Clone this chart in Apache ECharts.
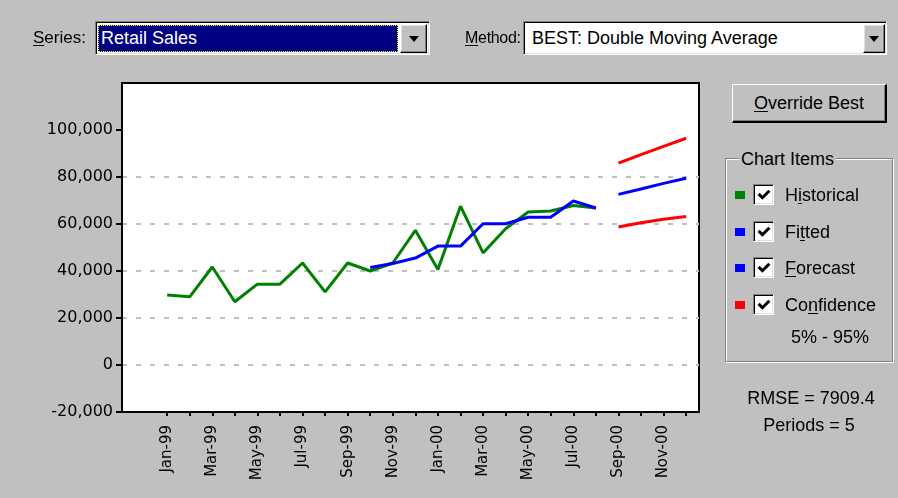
<!DOCTYPE html>
<html>
<head>
<meta charset="utf-8">
<script src="https://cdn.jsdelivr.net/npm/echarts@6/dist/echarts.min.js"></script>
<style>
  html, body { margin:0; padding:0; background:#c0c0c0; width:898px; height:498px; overflow:hidden; }
  body { position:relative; font-family:"Liberation Sans", Arial, sans-serif; font-size:18px; color:#000; }
  #chart { position:absolute; left:0; top:0; width:898px; height:498px; }
  .ui { position:absolute; z-index:2; box-sizing:border-box; white-space:nowrap; }
  .lbl { line-height:20px; }
  .sunken { background:#fff; border-top:1px solid #808080; border-left:1px solid #808080; border-right:1px solid #fff; border-bottom:1px solid #fff; box-shadow: inset 1px 1px 0 #000, inset -1px -1px 0 #dfdfdf; }
  .raised { background:#c0c0c0; border-top:1px solid #fff; border-left:1px solid #fff; border-right:1px solid #000; border-bottom:1px solid #000; box-shadow: inset -1px -1px 0 #808080, inset 1px 1px 0 #dfdfdf; }
  .tri { position:absolute; left:50%; top:50%; width:0; height:0; margin-left:-5px; margin-top:-3px; border-left:5px solid transparent; border-right:5px solid transparent; border-top:6px solid #000; }
  u { text-decoration:underline; text-underline-offset:2px; }
  .sq { position:absolute; width:10px; height:8px; z-index:2; }
  .cb { position:absolute; width:21px; height:21px; z-index:2; box-sizing:border-box; background:#fff; border-top:1px solid #808080; border-left:1px solid #808080; border-right:1px solid #fff; border-bottom:1px solid #fff; box-shadow: inset 1px 1px 0 #000, inset -1px -1px 0 #dfdfdf; }
  .cb svg { position:absolute; left:3px; top:3px; }
</style>
</head>
<body>
<div id="chart"></div>

<!-- Top controls -->
<div class="ui lbl" style="left:33px; top:28px; font-size:17px;"><u>S</u>eries:</div>
<div class="ui sunken" style="left:95px; top:21px; width:335px; height:34px;">
  <div style="position:absolute; left:2px; top:3px; width:300px; height:27px; background:#000080; outline:1px dotted #ffff00; outline-offset:-1px; color:#fff; line-height:27px; padding-left:3px; box-sizing:border-box;">Retail Sales</div>
  <div class="raised" style="position:absolute; left:304px; top:2px; width:27px; height:29px; box-sizing:border-box;"><div class="tri"></div></div>
</div>

<div class="ui lbl" style="left:465px; top:28px; font-size:16px; letter-spacing:-0.3px; z-index:3;"><u>M</u>ethod:</div>
<div class="ui sunken" style="left:523px; top:21px; width:364px; height:34px;">
  <div style="position:absolute; left:8px; top:3px; line-height:27px;">BEST: Double Moving Average</div>
  <div class="raised" style="position:absolute; left:339px; top:2px; width:22px; height:29px; box-sizing:border-box;"><div class="tri"></div></div>
</div>

<!-- Override button -->
<div class="ui" style="left:732px; top:84px; width:155px; height:39px; background:#c0c0c0; border-top:1px solid #fff; border-left:1px solid #fff; border-right:2px solid #000; border-bottom:2px solid #000; box-shadow: inset -1px -1px 0 #808080; text-align:center; line-height:36px;"><u>O</u>verride Best</div>

<!-- Chart Items group -->
<div class="ui" style="left:725px; top:158px; width:168px; height:204px; border:1px solid #808080; box-shadow: 1px 1px 0 #fff, inset 1px 1px 0 #fff;"></div>
<div class="ui lbl" style="left:739px; top:149px; background:#c0c0c0; padding:0 2px;">Chart Items</div>

<div class="sq" style="left:735px; top:191px; background:#008000;"></div>
<div class="cb" style="left:753px; top:184px;"><svg width="14" height="14" viewBox="0 0 13 13"><path d="M1.5 5.5 L5 9 L11.5 2.5" stroke="#000" stroke-width="2.8" fill="none"/></svg></div>
<div class="ui lbl" style="left:785px; top:185px;">H<u>i</u>storical</div>

<div class="sq" style="left:735px; top:228px; background:#0000ff;"></div>
<div class="cb" style="left:753px; top:221px;"><svg width="14" height="14" viewBox="0 0 13 13"><path d="M1.5 5.5 L5 9 L11.5 2.5" stroke="#000" stroke-width="2.8" fill="none"/></svg></div>
<div class="ui lbl" style="left:785px; top:222px;">Fi<u>t</u>ted</div>

<div class="sq" style="left:735px; top:264px; background:#0000ff;"></div>
<div class="cb" style="left:753px; top:257px;"><svg width="14" height="14" viewBox="0 0 13 13"><path d="M1.5 5.5 L5 9 L11.5 2.5" stroke="#000" stroke-width="2.8" fill="none"/></svg></div>
<div class="ui lbl" style="left:785px; top:258px;"><u>F</u>orecast</div>

<div class="sq" style="left:735px; top:301px; background:#ff0000;"></div>
<div class="cb" style="left:753px; top:294px;"><svg width="14" height="14" viewBox="0 0 13 13"><path d="M1.5 5.5 L5 9 L11.5 2.5" stroke="#000" stroke-width="2.8" fill="none"/></svg></div>
<div class="ui lbl" style="left:785px; top:295px;">Co<u>n</u>fidence</div>

<div class="ui lbl" style="left:791px; top:327px;">5% - 95%</div>

<div class="ui lbl" style="left:725px; top:388px; width:172px; text-align:center;">RMSE = 7909.4</div>
<div class="ui lbl" style="left:725px; top:415px; width:168px; text-align:center;">Periods = 5</div>

<script>
// ---- Data ----
const months = ['Jan-99','Feb-99','Mar-99','Apr-99','May-99','Jun-99','Jul-99','Aug-99','Sep-99','Oct-99','Nov-99','Dec-99',
                'Jan-00','Feb-00','Mar-00','Apr-00','May-00','Jun-00','Jul-00','Aug-00','Sep-00','Oct-00','Nov-00','Dec-00'];
const historical = [29800, 29000, 41700, 26900, 34400, 34400, 43400, 31100, 43400, 40000, 43400, 57300,
                    40600, 67600, 47700, 58000, 65100, 65500, 67900, 66800];
const fittedStart = 9; // Oct-99
const fitted = [41500, 43200, 45500, 50600, 50600, 60100, 60100, 62900, 62900, 69800, 66800];
const forecastStart = 20; // Sep-00
const forecast = [72600, 74900, 77300, 79500];
const upperConf = [85900, 89500, 93000, 96500];
const lowerConf = [58700, 60500, 62000, 63200];
const yTicks = [-20000, 0, 20000, 40000, 60000, 80000, 100000];

// ---- Build ----
const toPairs = (arr, start) => arr.map((v, i) => [start + i, v]);
const tickIdx = months.map((m, i) => i);
const labelIdx = months.map((m, i) => i).filter(i => i % 2 === 0);

const chart = echarts.init(document.getElementById('chart'), null, { renderer: 'canvas' });
const lineSeries = (name, data, color) => ({
  name, type: 'line', data, showSymbol: false, symbol: 'none', smooth: false,
  lineStyle: { color, width: 3 }, itemStyle: { color }, z: 3
});
chart.setOption({
  animation: false,
  backgroundColor: '#c0c0c0',
  grid: { left: 122, top: 83, right: 199, bottom: 86, show: true, backgroundColor: '#fff', borderColor: '#000', borderWidth: 2 },
  xAxis: {
    type: 'value', min: -2, max: 23.57,
    axisLine: { show: true, onZero: false, lineStyle: { color: '#000', width: 2 } },
    axisTick: { show: true, customValues: tickIdx, length: 4, lineStyle: { color: '#000', width: 2 } },
    axisLabel: { customValues: labelIdx, rotate: 90, formatter: v => months[Math.round(v)] || '',
                 fontFamily: 'DejaVu Sans', fontSize: 15, color: '#000', margin: 13 },
    splitLine: { show: false }
  },
  yAxis: {
    type: 'value', min: -20000, max: 120000, interval: 20000,
    axisLine: { show: true, onZero: false, lineStyle: { color: '#000', width: 2 } },
    axisTick: { show: true, customValues: yTicks, length: 6, lineStyle: { color: '#000', width: 2 } },
    axisLabel: { customValues: yTicks, formatter: v => v.toLocaleString('en-US'),
                 fontFamily: 'DejaVu Sans', fontSize: 16, color: '#000', margin: 9 },
    splitLine: { show: true, showMinLine: false, showMaxLine: false, lineStyle: { color: '#c0c0c0', width: 2, type: [5, 9] } }
  },
  series: [
    lineSeries('Historical', toPairs(historical, 0), '#008000'),
    lineSeries('Fitted', toPairs(fitted, fittedStart), '#0000ff'),
    lineSeries('Forecast', toPairs(forecast, forecastStart), '#0000ff'),
    lineSeries('Upper Confidence', toPairs(upperConf, forecastStart), '#ff0000'),
    lineSeries('Lower Confidence', toPairs(lowerConf, forecastStart), '#ff0000')
  ]
});
</script>
</body>
</html>
